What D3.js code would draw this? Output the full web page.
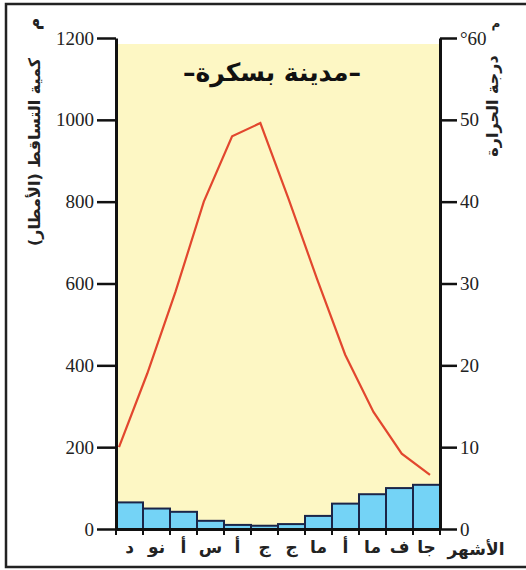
<!DOCTYPE html>
<html><head><meta charset="utf-8">
<script src="https://cdn.jsdelivr.net/npm/d3@7"></script>
<style>body{margin:0;background:#fff}</style>
</head><body><svg id="c" width="526" height="570"></svg>
<script>
const months = ["د","نو","أ","س","أ","ج","ج","ما","أ","ما","ف","جا"];
const rainfall = [65, 50, 42, 20, 10, 8, 12, 32, 62, 85, 100, 108];
const temperature = [10, 19, 29, 40, 48, 49.6, 40.3, 30.6, 21.3, 14.3, 9.2, 6.6];
const rainTicks = [0, 200, 400, 600, 800, 1000, 1200];
const tempTicks = [0, 10, 20, 30, 40, 50, 60];
const title = "–مدينة بسكرة–";
const rainTitle = "كمية التساقط (الأمطار)";
const tempTitle = "درجة الحرارة";
const monthTitle = "الأشهر";

const svg = d3.select("#c");
const X0 = 116, X1 = 440, Y0 = 529, Y1 = 38;
const arabic = "'DejaVu Sans', 'Noto Sans', sans-serif";
const serif = "'Liberation Serif', 'DejaVu Serif', serif";

// frame
svg.append("path").attr("d", "M528,4 H6 V567 H528").attr("fill", "none")
  .attr("stroke", "#222").attr("stroke-width", 2.5);

const idx = d3.range(months.length);
const x = d3.scaleBand().domain(idx).range([X0, X1]).padding(0);
const xp = d3.scalePoint().domain(idx).range([X0 + 3, X1 - 10]);
const yRain = d3.scaleLinear().domain([0, 1200]).range([Y0, Y1]);
const yTemp = d3.scaleLinear().domain([0, 60]).range([Y0, Y1]);

// plot background
svg.append("rect").attr("x", X0).attr("y", Y1 + 6).attr("width", X1 - X0).attr("height", Y0 - Y1 - 6)
  .attr("fill", "#fdf7c4");

// title
svg.append("text").attr("x", 272).attr("y", 81).attr("text-anchor", "middle")
  .attr("direction", "rtl")
  .style("font-family", arabic).style("font-weight", "bold").style("font-size", "25px")
  .attr("fill", "#111").text(title);

// bars
svg.append("g").selectAll("rect").data(rainfall).join("rect")
  .attr("x", (d, i) => x(i)).attr("width", x.bandwidth())
  .attr("y", d => yRain(d)).attr("height", d => Y0 - yRain(d))
  .attr("fill", "#74d3f6").attr("stroke", "#1b2548").attr("stroke-width", 2);

// temperature line
svg.append("path").datum(temperature)
  .attr("d", d3.line().x((d, i) => xp(i)).y(d => yTemp(d)))
  .attr("fill", "none").attr("stroke", "#e2472e").attr("stroke-width", 2.2)
  .attr("stroke-linejoin", "miter");

// left axis
const gl = svg.append("g").attr("transform", `translate(${X0},0)`)
  .call(d3.axisLeft(yRain).tickValues(rainTicks).tickSize(19).tickSizeOuter(0).tickPadding(3)
    .tickFormat(d3.format("d")));
gl.select(".domain").attr("stroke", "#111").attr("stroke-width", 3);
gl.selectAll(".tick line").attr("stroke", "#111").attr("stroke-width", 2.5);
gl.selectAll(".tick text").style("font-family", serif).style("font-size", "19px").attr("fill", "#222");

// right axis
const gr = svg.append("g").attr("transform", `translate(${X1},0)`)
  .call(d3.axisRight(yTemp).tickValues(tempTicks).tickSize(17).tickSizeOuter(0).tickPadding(3)
    .tickFormat(d => d === 60 ? "°60" : d));
gr.select(".domain").attr("stroke", "#111").attr("stroke-width", 3);
gr.selectAll(".tick line").attr("stroke", "#111").attr("stroke-width", 2.5);
gr.selectAll(".tick text").style("font-family", serif).style("font-size", "19px").attr("fill", "#222");

// bottom axis
const gb = svg.append("g").attr("transform", `translate(0,${Y0})`)
  .call(d3.axisBottom(x).tickSize(0).tickPadding(12).tickFormat(i => months[i]));
gb.select(".domain").attr("stroke", "#111").attr("stroke-width", 3);
gb.selectAll(".tick text").style("font-family", arabic).style("font-weight", "bold")
  .style("font-size", "17px").attr("fill", "#222");
gb.selectAll(".bt").data(idx.map(i => x(i)).concat([X1])).join("line").attr("class", "bt")
  .attr("x1", d => d).attr("x2", d => d).attr("y1", 0).attr("y2", 6)
  .attr("stroke", "#111").attr("stroke-width", 2);

// axis titles
svg.append("text").attr("transform", "translate(40,152) rotate(-90)")
  .attr("text-anchor", "middle").attr("direction", "rtl")
  .style("font-family", arabic).style("font-weight", "bold").style("font-size", "16px")
  .attr("fill", "#222").text(rainTitle);
svg.append("text").attr("transform", "translate(40,24) rotate(-90)")
  .attr("text-anchor", "middle")
  .style("font-family", arabic).style("font-weight", "bold").style("font-size", "17px")
  .attr("fill", "#222").text("م");
svg.append("text").attr("transform", "translate(498,106) rotate(-90)")
  .attr("text-anchor", "middle").attr("direction", "rtl")
  .style("font-family", arabic).style("font-weight", "bold").style("font-size", "16px")
  .attr("fill", "#222").text(tempTitle);
svg.append("text").attr("x", 496).attr("y", 27).attr("text-anchor", "middle")
  .style("font-family", arabic).style("font-weight", "bold").style("font-size", "12px")
  .attr("fill", "#222").text("م");
svg.append("text").attr("x", 476).attr("y", 555).attr("text-anchor", "middle")
  .style("font-family", arabic).style("font-weight", "bold").style("font-size", "17px")
  .attr("fill", "#222").text(monthTitle);
</script></body></html>
